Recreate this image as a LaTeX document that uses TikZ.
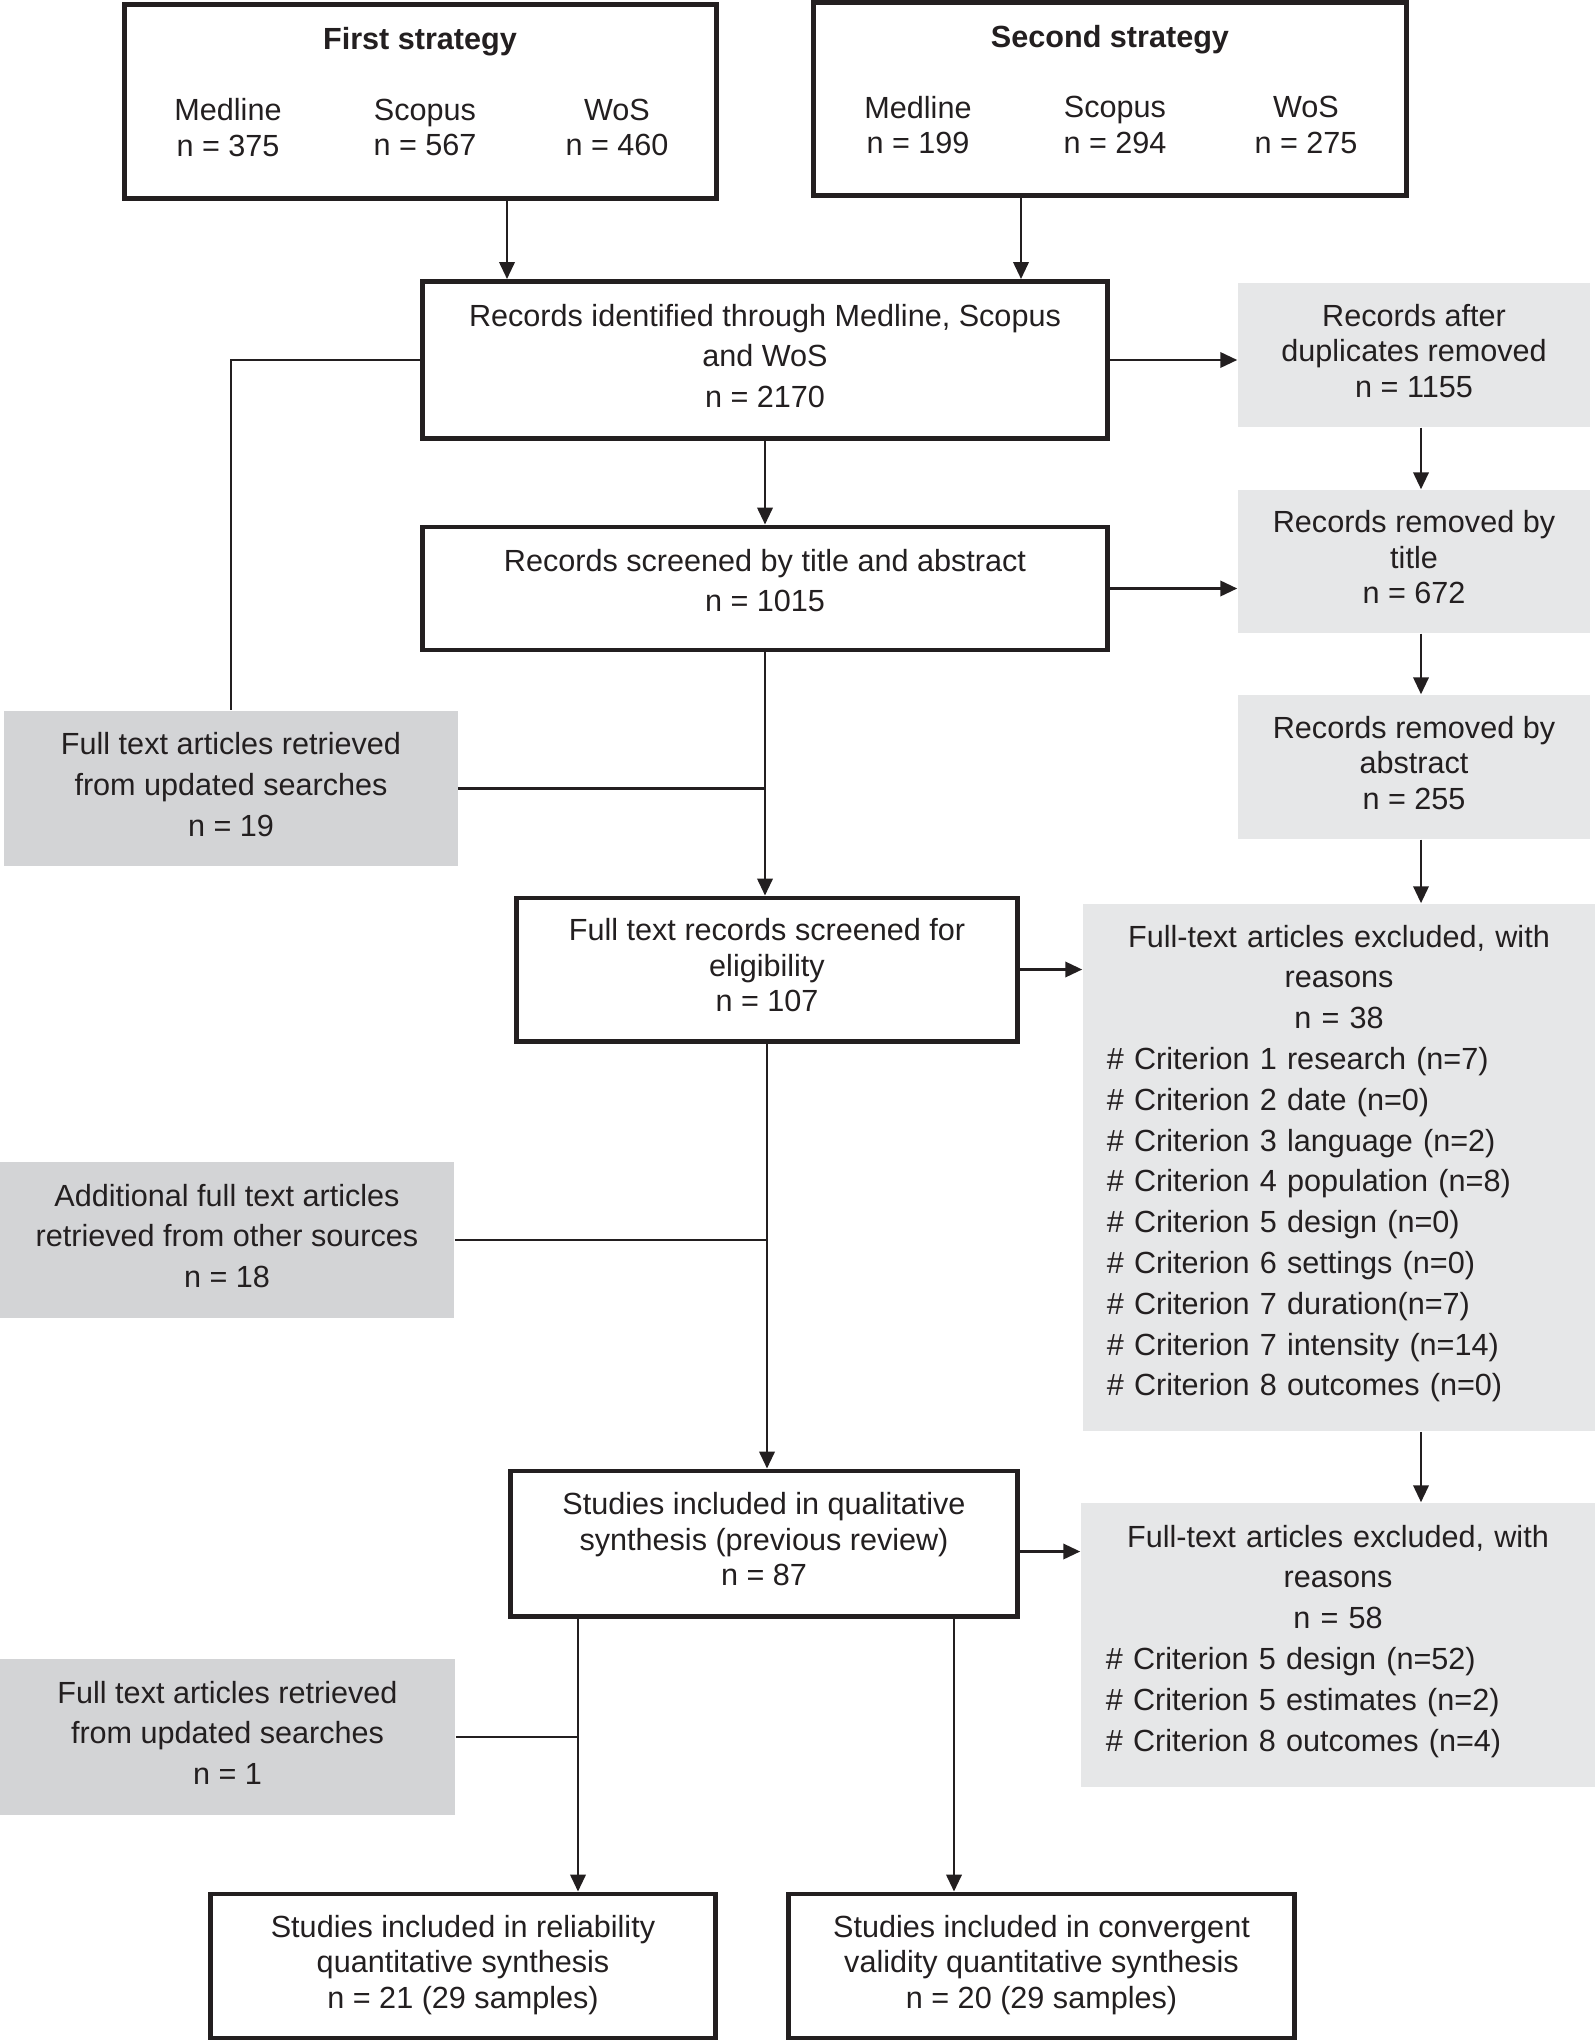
\documentclass[tikz,border=0pt]{standalone}
\usepackage{fontspec}
\setmainfont{Liberation Sans}
\usetikzlibrary{arrows.meta}
\definecolor{ink}{RGB}{35,31,32}
\definecolor{darkgrey}{RGB}{211,212,214}
\definecolor{lightgrey}{RGB}{230,231,232}
\tikzset{>={Triangle[length=4.8pt,width=4.4pt]}}
\tikzset{
  box/.style={draw=ink, line width=1.4pt, fill=white, align=center, inner sep=0pt, text depth=2.4pt},
  leftbox/.style={fill=darkgrey, align=center, inner sep=0pt, text depth=2.4pt},
  rightbox/.style={fill=lightgrey, align=center, inner sep=0pt, text depth=2.4pt},
  listbox/.style={fill=lightgrey, align=left, inner sep=0pt, text width=4.64cm},
  tight/.style={font=\fontsize{8.7}{10.1}\selectfont},
  loose/.style={font=\fontsize{8.7}{11.6}\selectfont},
  link/.style={draw=ink, line width=0.6pt}
}

\begin{document}
\begin{tikzpicture}[x=0.01cm, y=-0.01cm, text=ink]
    \useasboundingbox (0,0) rectangle (1595,2040);
    \coordinate (ax) at (1421,0);
    \coordinate (bx) at (578,0);
    \coordinate (cx) at (954,0);
    \coordinate (fx) at (507,0);
    \coordinate (sx) at (1021,0);

    % search strategies
    \node (first) [box, minimum width=5.91cm, minimum height=1.93cm] at (420.5,101.5) {};
    \node (firsttitle) [tight, font=\fontsize{8.7}{10.1}\selectfont\bfseries] at (420,42) {First strategy};
    \node (firstmed) [tight, align=center] at (228,127.5) {Medline\\n = 375};
    \node (firstsco) [tight, align=center] at (425,127.5) {Scopus\\n = 567};
    \node (firstwos) [tight, align=center] at (617,127.5) {WoS\\n = 460};
    \node (second) [box, minimum width=5.92cm, minimum height=1.92cm] at (1110,99) {};
    \node (secondtitle) [tight, font=\fontsize{8.7}{10.1}\selectfont\bfseries] at (1110,40) {Second strategy};
    \node (secondmed) [tight, align=center] at (918,125) {Medline\\n = 199};
    \node (secondsco) [tight, align=center] at (1115,125) {Scopus\\n = 294};
    \node (secondwos) [tight, align=center] at (1306,125) {WoS\\n = 275};

    % main column
    \node (ident) [box, loose, minimum width=6.85cm, minimum height=1.57cm] at (765,360) {Records identified through Medline, Scopus\\and WoS\\n = 2170};
    \node (screened) [box, loose, text depth=4.6pt, minimum width=6.85cm, minimum height=1.23cm] at (765,588.5) {Records screened by title and abstract\\n = 1015};
    \node (fulltext) [box, tight, minimum width=5.00cm, minimum height=1.43cm] at (767,969.5) {Full text records screened for\\eligibility\\n = 107};
    \node (qual) [box, tight, minimum width=5.06cm, minimum height=1.45cm] at (764,1543.5) {Studies included in qualitative\\synthesis (previous review)\\n = 87};
    \node (rel) [box, tight, minimum width=5.04cm, minimum height=1.44cm] at (463,1966) {Studies included in reliability\\quantitative synthesis\\n = 21 (29 samples)};
    \node (conv) [box, tight, minimum width=5.05cm, minimum height=1.44cm] at (1041.5,1966) {Studies included in convergent\\validity quantitative synthesis\\n = 20 (29 samples)};

    % right column
    \node (dup) [rightbox, tight, minimum width=3.52cm, minimum height=1.44cm] at (1414,355) {Records after\\duplicates removed\\n = 1155};
    \node (title) [rightbox, tight, minimum width=3.52cm, minimum height=1.43cm] at (1414,561.5) {Records removed by\\title\\n = 672};
    \node (abstract) [rightbox, tight, minimum width=3.52cm, minimum height=1.44cm] at (1414,767) {Records removed by\\abstract\\n = 255};
    \node (excla) [listbox, loose, minimum width=5.12cm, minimum height=5.27cm] at (1339,1167.5) {{\centering Full-text articles excluded, with\\reasons\\n = 38\par}\# Criterion 1 research (n=7)\\\# Criterion 2 date (n=0)\\\# Criterion 3 language (n=2)\\\# Criterion 4 population (n=8)\\\# Criterion 5 design (n=0)\\\# Criterion 6 settings (n=0)\\\# Criterion 7 duration(n=7)\\\# Criterion 7 intensity (n=14)\\\# Criterion 8 outcomes (n=0)\par\vspace{2.2pt}};
    \node (exclb) [listbox, loose, minimum width=5.14cm, minimum height=2.84cm] at (1338,1645) {{\centering Full-text articles excluded, with\\reasons\\n = 58\par}\# Criterion 5 design (n=52)\\\# Criterion 5 estimates (n=2)\\\# Criterion 8 outcomes (n=4)\par\vspace{2.2pt}};

    % left column
    \node (upda) [leftbox, loose, minimum width=4.53cm, minimum height=1.55cm] at (231,788.5) {Full text articles retrieved\\from updated searches\\n = 19};
    \node (addl) [leftbox, loose, minimum width=4.54cm, minimum height=1.56cm] at (227,1240) {Additional full text articles\\retrieved from other sources\\n = 18};
    \node (updb) [leftbox, loose, minimum width=4.55cm, minimum height=1.56cm] at (227.5,1737) {Full text articles retrieved\\from updated searches\\n = 1};

    % connectors
    \draw [link, ->] (first.south -| fx) -- (ident.north -| fx);
    \draw [link, ->] (second.south -| sx) -- (ident.north -| sx);
    \draw [link, ->] (ident.east) -- (ident.east -| dup.west);
    \draw [link, ->] (dup.south -| ax) -- (title.north -| ax);
    \draw [link, ->] (ident) -- (screened);
    \draw [link, ->] (screened.east) -- (screened.east -| title.west);
    \draw [link, ->] (title.south -| ax) -- (abstract.north -| ax);
    \draw [link, ->] (abstract.south -| ax) -- (excla.north -| ax);
    \draw [link] (ident.west) -| (upda.north);
    \draw [link, ->] (screened.south) -- (screened.south |- fulltext.north);
    \draw [link] (upda.east) -- (upda.east -| screened.south);
    \draw [link, ->] (fulltext.east) -- (fulltext.east -| excla.west);
    \draw [link, ->] (fulltext.south) -- (fulltext.south |- qual.north);
    \draw [link] (addl.east) -- (addl.east -| fulltext.south);
    \draw [link, ->] (excla.south -| ax) -- (exclb.north -| ax);
    \draw [link, ->] ([yshift=-0.08cm]qual.east) -- ([yshift=-0.08cm]qual.east -| exclb.west);
    \draw [link, ->] (qual.south -| bx) -- (rel.north -| bx);
    \draw [link, ->] (qual.south -| cx) -- (conv.north -| cx);
    \draw [link] (updb.east) -- (updb.east -| bx);
\end{tikzpicture}
\end{document}
